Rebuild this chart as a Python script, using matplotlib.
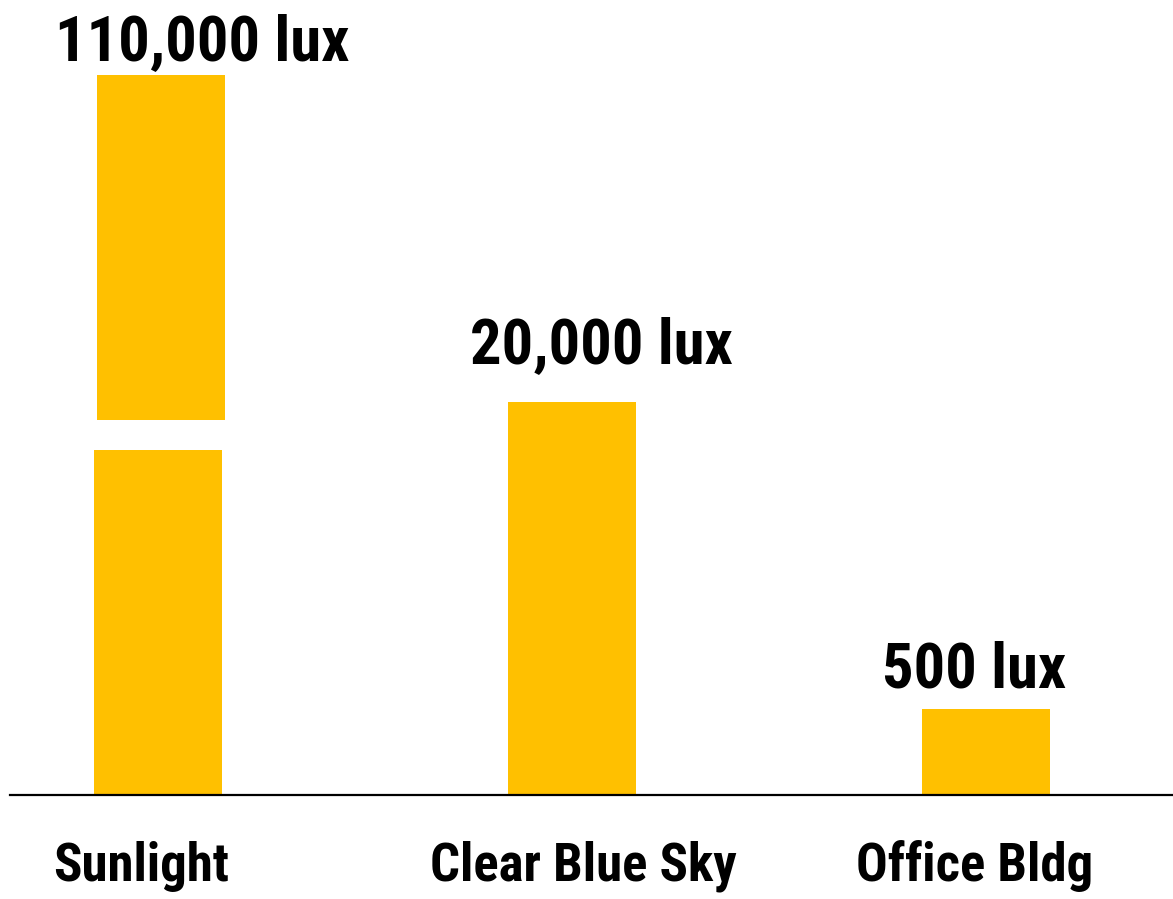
import numpy as np
import matplotlib
matplotlib.use('Agg')
import matplotlib.pyplot as plt

# ------------------------------------------------------
#  Data (bar heights are illustrative, not to scale)
# ------------------------------------------------------
categories = ['Sunlight', 'Clear Blue Sky', 'Office Bldg']
lux_labels = ['110,000 lux', '20,000 lux', '500 lux']
bar_heights = [720, 393, 86]          # drawn height of each bar
break_low, break_high = 345, 375      # gap drawn in the Sunlight bar

# ------------------------------------------------------
#  Layout
# ------------------------------------------------------
bar_color = '#FFC000'
bar_width = 0.31
x = np.arange(len(categories))
upper_shift = 0.007                   # top piece of the broken bar sits a bit right
value_dx = [0.106, 0.070, -0.029]     # value label offset from bar centre
value_dy = [15, 39, 22]               # value label gap above bar top
cat_dx = [-0.041, 0.027, -0.027]      # category label offset from bar centre
cat_y = -86

plt.rcParams['font.family'] = ['Liberation Sans Narrow', 'Roboto Condensed',
                               'Archivo Narrow', 'DejaVu Sans']

fig = plt.figure(figsize=(11.73, 8.99), dpi=100)
ax = fig.add_axes([10 / 1173, 104 / 899, 1163 / 1173, 795 / 899])

# Sunlight: broken bar in two pieces
ax.bar(x[0], break_low, width=bar_width, color=bar_color)
ax.bar(x[0] + upper_shift, bar_heights[0] - break_high, bottom=break_high,
       width=bar_width, color=bar_color)
# the rest
ax.bar(x[1:], bar_heights[1:], width=bar_width, color=bar_color)

for i in range(len(categories)):
    ax.text(x[i] + value_dx[i], bar_heights[i] + value_dy[i], lux_labels[i],
            ha='center', va='baseline', fontsize=45, fontweight='bold',
            color='black', clip_on=False)
    ax.text(x[i] + cat_dx[i], cat_y, categories[i],
            ha='center', va='baseline', fontsize=38, fontweight='bold',
            color='black', clip_on=False)

ax.set_xlim(-0.3575, 2.4517)
ax.set_ylim(0, 795)
for s in ['top', 'left', 'right']:
    ax.spines[s].set_visible(False)
ax.spines['bottom'].set_linewidth(1.6)
ax.set_xticks([])
ax.set_yticks([])
ax.patch.set_alpha(0)

fig.savefig('out.png', dpi=100)
